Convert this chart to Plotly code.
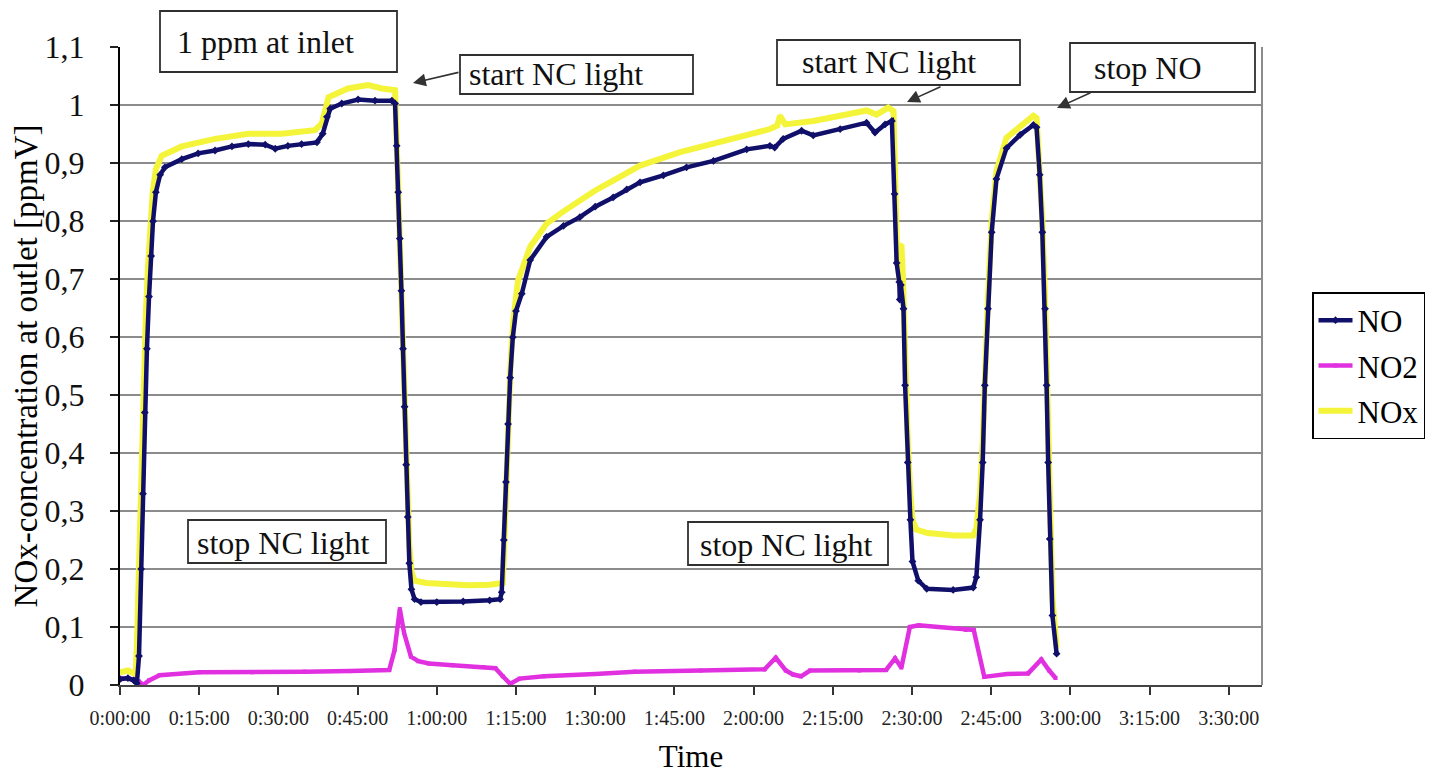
import plotly.graph_objects as go

# ---------------- data (time in minutes, concentration in ppmV) ----------------
t_no = [0, 1.5, 2.6, 3.2, 3.6, 4.0, 4.35, 4.7, 5.1, 5.5,
        5.9, 6.25, 6.8, 7.6, 8.5, 11.7, 14.8, 18.0, 21.2, 24.3,
        27.5, 29.4, 31.8, 34.4, 37.3, 38.4, 39.2, 39.8, 42.0, 45.1,
        48.3, 51.5, 52.1, 52.4, 52.7, 53.0, 53.3, 53.6, 53.9, 54.2,
        54.5, 54.8, 55.2, 55.8, 57.0, 60.0, 65.0, 70.0, 72.0, 72.3,
        72.7, 73.1, 73.5, 73.9, 74.4, 75.0, 76.1, 77.7, 80.8, 84.0,
        87.1, 90.0, 93.4, 96.0, 98.5, 102.9, 107.3, 112.4, 118.7, 123.1,
        124.0, 125.6, 129.1, 131.3, 136.4, 141.4, 143.0, 144.9, 146.2, 146.7,
        147.1, 147.6, 147.7, 147.9, 148.4, 148.7, 149.2, 149.7, 150.1, 151.2,
        152.8, 157.8, 161.6, 162.2, 162.9, 163.4, 163.8, 164.4, 165.1, 166.0,
        167.9, 170.5, 173.0, 173.6, 174.2, 174.7, 175.2, 175.5, 175.8, 176.1,
        176.6, 177.4]
no = [0.010, 0.012, 0.008, 0.003, 0.05, 0.2, 0.33, 0.47, 0.58, 0.67,
      0.74, 0.8, 0.85, 0.88, 0.893, 0.907, 0.917, 0.922, 0.929, 0.933,
      0.932, 0.925, 0.930, 0.933, 0.936, 0.951, 0.98, 0.994, 1.003, 1.010,
      1.008, 1.008, 1.003, 0.93, 0.85, 0.77, 0.68, 0.58, 0.48, 0.38,
      0.29, 0.21, 0.165, 0.148, 0.143, 0.143, 0.144, 0.146, 0.148, 0.16,
      0.25, 0.35, 0.45, 0.53, 0.6, 0.645, 0.675, 0.733, 0.773, 0.792,
      0.807, 0.825, 0.841, 0.855, 0.867, 0.879, 0.893, 0.904, 0.924, 0.930,
      0.927, 0.942, 0.956, 0.948, 0.959, 0.970, 0.953, 0.967, 0.973, 0.847,
      0.728, 0.695, 0.665, 0.69, 0.649, 0.517, 0.384, 0.285, 0.213, 0.18,
      0.166, 0.164, 0.168, 0.186, 0.285, 0.384, 0.517, 0.649, 0.781, 0.873,
      0.926, 0.949, 0.966, 0.962, 0.88, 0.781, 0.649, 0.517, 0.384, 0.252,
      0.12, 0.054]

t_nox = [0, 1.5, 2.6, 3.0, 3.3, 3.7, 4.1, 4.5, 4.9, 5.3,
         5.7, 6.2, 6.8, 7.9, 11.7, 15.0, 18.0, 24.3, 30.6, 36.9,
         38.2, 39.5, 43.2, 47.0, 49.6, 52.1, 52.4, 52.7, 53.0, 53.3,
         53.6, 53.9, 54.2, 54.5, 54.8, 55.2, 55.8, 58.0, 62.0, 66.0,
         70.0, 72.5, 72.8, 73.2, 73.6, 74.0, 74.5, 75.4, 77.7, 80.8,
         84.0, 87.1, 90.0, 93.4, 98.5, 106.1, 112.4, 118.7, 123.1, 124.5,
         125.0, 126.0, 131.3, 137.6, 141.4, 143.3, 145.5, 146.5, 146.8, 147.2,
         147.6, 148.0, 148.3, 148.7, 149.2, 149.7, 150.1, 150.8, 153.0, 158.0,
         161.6, 162.2, 162.9, 163.4, 163.8, 164.4, 165.1, 166.0, 167.9, 170.5,
         173.0, 173.6, 174.2, 174.7, 175.2, 175.5, 175.8, 176.1, 176.6, 177.4]
nox = [0.022, 0.025, 0.02, 0.018, 0.1, 0.25, 0.4, 0.53, 0.64, 0.72,
       0.79, 0.85, 0.89, 0.913, 0.929, 0.936, 0.942, 0.951, 0.951, 0.957,
       0.968, 1.014, 1.029, 1.035, 1.029, 1.026, 0.95, 0.87, 0.79, 0.70,
       0.60, 0.50, 0.41, 0.32, 0.24, 0.195, 0.18, 0.176, 0.173, 0.172,
       0.173, 0.176, 0.25, 0.36, 0.47, 0.56, 0.63, 0.698, 0.756, 0.796,
       0.817, 0.836, 0.853, 0.870, 0.896, 0.919, 0.933, 0.947, 0.959, 0.965,
       0.982, 0.967, 0.973, 0.984, 0.991, 0.984, 0.996, 0.99, 0.86, 0.74,
       0.70, 0.76, 0.70, 0.55, 0.42, 0.33, 0.285, 0.268, 0.262, 0.258,
       0.258, 0.27, 0.33, 0.42, 0.54, 0.67, 0.80, 0.886, 0.944, 0.965,
       0.982, 0.978, 0.90, 0.80, 0.67, 0.54, 0.41, 0.28, 0.15, 0.065]

t_no2 = [0, 2.5, 3.6, 4.4, 5.5, 7.5, 15, 25, 35, 43.6,
         51.0, 52.0, 53.0, 53.8, 55.1, 56.5, 58.5, 63.0, 68.8, 71.1,
         72.5, 73.9, 75.7, 80.3, 90.0, 97.5, 110.0, 122.1, 124.2, 126.1,
         127.5, 129.0, 130.7, 140.0, 145.1, 146.8, 148.0, 149.6, 151.3, 155.0,
         160.2, 161.7, 163.7, 168.0, 172.0, 174.5, 176.0, 177.2]
no2 = [0.012, 0.010, 0.006, 0.0, 0.008, 0.017, 0.022, 0.022, 0.023, 0.024,
       0.026, 0.06, 0.131, 0.09, 0.049, 0.041, 0.037, 0.034, 0.031, 0.029,
       0.015, 0.002, 0.011, 0.015, 0.019, 0.023, 0.025, 0.027, 0.047, 0.025,
       0.018, 0.015, 0.025, 0.025, 0.026, 0.046, 0.03, 0.1, 0.103, 0.1,
       0.095, 0.095, 0.014, 0.019, 0.02, 0.044, 0.025, 0.012]

x_tickvals = [0, 15, 30, 45, 60, 75, 90, 105, 120, 135, 150, 165, 180, 195, 210]
x_ticktext = ["0:00:00", "0:15:00", "0:30:00", "0:45:00", "1:00:00", "1:15:00",
              "1:30:00", "1:45:00", "2:00:00", "2:15:00", "2:30:00", "2:45:00",
              "3:00:00", "3:15:00", "3:30:00"]
y_tickvals = [0, 0.1, 0.2, 0.3, 0.4, 0.5, 0.6, 0.7, 0.8, 0.9, 1.0, 1.1]
y_ticktext = ["0", "0,1", "0,2", "0,3", "0,4", "0,5", "0,6", "0,7", "0,8", "0,9", "1", "1,1"]

# ---------------- geometry helpers (page pixel -> paper) ----------------
OFF = 8                      # default body margin of the html page
W, H = 1443, 776
L, R, T, B = 120, 1262, 47, 685   # plot area in page pixels


def px(x):
    return (x - L) / (R - L)


def py(y):
    return (B - y) / (B - T)


FONT = "Liberation Serif"
C_NO = "#10106a"
C_NO2 = "#e030e0"
C_NOX = "#f4f43a"

fig = go.Figure()
fig.add_trace(go.Scatter(x=t_nox, y=nox, name="NOx", mode="lines+markers",
                         line=dict(color=C_NOX, width=6),
                         marker=dict(symbol="triangle-up", size=5, color=C_NOX),
                         legendrank=3, legendgroup="c"))
fig.add_trace(go.Scatter(x=t_no2, y=no2, name="NO2", mode="lines+markers",
                         line=dict(color=C_NO2, width=4.5),
                         marker=dict(symbol="square", size=4, color=C_NO2),
                         legendrank=2, legendgroup="b"))
fig.add_trace(go.Scatter(x=t_no, y=no, name="NO", mode="lines+markers",
                         line=dict(color=C_NO, width=4.5),
                         marker=dict(symbol="diamond", size=6, color=C_NO),
                         legendrank=1, legendgroup="a"))

shapes = []
annotations = []

# plot-area right border
shapes.append(dict(type="line", xref="paper", yref="paper", x0=1, x1=1, y0=0, y1=1,
                   line=dict(color="#8c8c8c", width=2)))


def box(x0, y0, x1, y1):
    shapes.append(dict(type="rect", xref="paper", yref="paper",
                       x0=px(x0), x1=px(x1), y0=py(y1), y1=py(y0),
                       line=dict(color="#303030", width=1.8), fillcolor="white",
                       layer="above"))


def label(text, xl, yc, size=32):
    annotations.append(dict(text=text, xref="paper", yref="paper", x=px(xl), y=py(yc),
                            xanchor="left", yanchor="middle", showarrow=False,
                            borderpad=0,
                            font=dict(family=FONT, size=size, color="#111")))


def arrow(xh, yh, xt, yt):
    annotations.append(dict(text="", xref="paper", yref="paper", x=px(xh), y=py(yh),
                            ax=xt - xh, ay=yt - yh, showarrow=True, arrowhead=2,
                            arrowsize=1.6, arrowwidth=1.6, arrowcolor="#333"))


box(160, 11, 397, 72)
label("1 ppm at inlet", 176, 42)
box(460, 55, 693, 94)
label("start NC light", 468, 74)
box(777, 40, 1020, 85)
label("start NC light", 801, 62)
box(1070, 43, 1255, 92)
label("stop NO", 1093, 68)
box(188, 520, 386, 563)
label("stop NC light", 196, 543)
box(688, 522, 888, 565)
label("stop NC light", 699, 545)

arrow(413, 83, 460, 72)
arrow(907, 102, 942, 86)
arrow(1057, 108, 1092, 92)

fig.update_layout(
    width=W, height=H,
    margin=dict(l=L - OFF, r=W - (R - OFF), t=T - OFF, b=H - (B - OFF)),
    paper_bgcolor="white", plot_bgcolor="white",
    font=dict(family=FONT, color="black"),
    showlegend=True,
    legend=dict(x=px(1312), y=py(292), xanchor="left", yanchor="top",
                bordercolor="black", borderwidth=1.5, bgcolor="white",
                font=dict(family=FONT, size=31), tracegroupgap=2,
                itemwidth=34, entrywidth=80),
    shapes=shapes,
    annotations=annotations,
    xaxis=dict(range=[0, 216.3], tickmode="array", tickvals=x_tickvals,
               ticktext=x_ticktext, showgrid=False, zeroline=False, automargin=False,
               showline=True, linecolor="#444", linewidth=2,
               ticks="outside", ticklen=8, tickwidth=1.5, tickcolor="#333",
               ticklabelstandoff=6,
               tickfont=dict(family=FONT, size=20, color="#222"),
               title=dict(text="Time", font=dict(family=FONT, size=31), standoff=17)),
    yaxis=dict(range=[0, 1.1005], tickmode="array", tickvals=y_tickvals,
               ticktext=y_ticktext, showgrid=True, gridcolor="#8c8c8c", gridwidth=2,
               zeroline=False, showline=True, linecolor="black", linewidth=2,
               automargin=False,
               ticks="outside", ticklen=8, tickwidth=1.5, tickcolor="#222",
               ticklabelstandoff=19,
               tickfont=dict(family=FONT, size=32, color="#111"),
               title=dict(text="NOx-concentration at outlet [ppmV]",
                          font=dict(family=FONT, size=33), standoff=8)),
)

fig.write_html("out.html")
